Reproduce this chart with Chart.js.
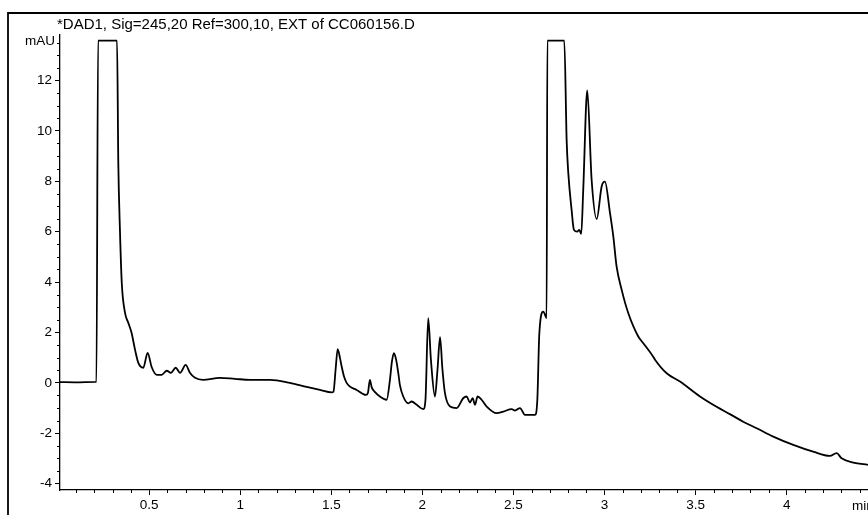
<!DOCTYPE html>
<html>
<head>
<meta charset="utf-8">
<script src="https://cdn.jsdelivr.net/npm/chart.js@4.4.1/dist/chart.umd.min.js"></script>
<style>
  html, body { margin: 0; padding: 0; background: #fff; }
  canvas { display: block; }
</style>
</head>
<body>
<canvas id="c" width="868" height="515"></canvas>
<script>
// ---- data ----
const title = "*DAD1, Sig=245,20 Ref=300,10, EXT of CC060156.D";
const yUnit = "mAU";
const xUnit = "min";
const xTickValues = [0.5, 1, 1.5, 2, 2.5, 3, 3.5, 4];
const yTickValues = [-4, -2, 0, 2, 4, 6, 8, 10, 12];

const timeMin = [
  0.010, 0.093, 0.209, 0.211, 0.220, 0.324, 0.331, 0.340, 0.350, 0.368,
  0.386, 0.404, 0.423, 0.441, 0.468, 0.492, 0.514, 0.542, 0.569, 0.597,
  0.620, 0.646, 0.670, 0.701, 0.724, 0.752, 0.796, 0.889, 0.971, 1.054,
  1.164, 1.273, 1.365, 1.438, 1.502, 1.512, 1.524, 1.535, 1.548, 1.557,
  1.570, 1.585, 1.603, 1.639,
  1.690, 1.701, 1.712, 1.722, 1.739, 1.767, 1.804, 1.822, 1.833, 1.844,
  1.855, 1.868, 1.877, 1.895,
  1.923, 1.941, 1.969, 2.005, 2.017, 2.032, 2.047, 2.069, 2.083, 2.097,
  2.110, 2.124, 2.152, 2.188, 2.224, 2.243, 2.261, 2.276, 2.289, 2.303,
  2.325, 2.353, 2.408, 2.444, 2.490, 2.508, 2.536, 2.563, 2.618, 2.631,
  2.642, 2.664, 2.682, 2.686, 2.779, 2.792, 2.801, 2.819, 2.832, 2.850,
  2.861, 2.872, 2.883, 2.905, 2.929, 2.957, 2.984, 3.002, 3.030, 3.048,
  3.066, 3.094, 3.130, 3.185, 3.212, 3.267, 3.277, 3.341, 3.414, 3.524,
  3.615, 3.688, 3.761, 3.835, 3.926, 4.036, 4.145, 4.237, 4.274, 4.301,
  4.365, 4.446
];
const signalMAU = [
  0.03, 0.02, 0.04, 0.04, 13.58, 13.58, 8.73, 6.07, 3.97, 2.78,
  2.38, 1.98, 1.31, 0.79, 0.60, 1.19, 0.63, 0.32, 0.32, 0.48,
  0.40, 0.60, 0.40, 0.71, 0.40, 0.20, 0.12, 0.20, 0.16, 0.12,
  0.12, 0.00, -0.16, -0.28, -0.38, -0.35, 0.55, 1.34, 0.98, 0.65,
  0.25, -0.01, -0.15, -0.28,
  -0.48, -0.40, 0.12, -0.18, -0.36, -0.54, -0.67, 0.12, 0.85, 1.18,
  0.95, 0.38, -0.10, -0.54,
  -0.81, -0.74, -0.87, -1.04, -0.67, 2.57, 0.91, -0.54, 0.52, 1.81,
  0.55, -0.41, -0.94, -1.00, -0.61, -0.54, -0.78, -0.61, -0.87, -0.54,
  -0.67, -0.94, -1.20, -1.14, -1.04, -1.10, -1.00, -1.27, -1.27, -0.67,
  1.97, 2.83, 2.57, 13.58, 13.58, 9.60, 8.32, 6.87, 6.07, 6.00,
  6.07, 5.91, 7.66, 11.60, 8.06, 6.50, 7.79, 7.98, 6.73, 5.81,
  4.62, 3.69, 2.77, 1.84, 1.58, 1.04, 0.92, 0.38, 0.05, -0.54,
  -0.95, -1.24, -1.54, -1.80, -2.13, -2.46, -2.73, -2.90, -2.79, -2.99,
  -3.16, -3.25
];

const X_MIN = 0.011, X_MAX = 4.446;
const Y_MIN = -4.25, Y_MAX = 13.8;

const FONT = "Arial, 'Liberation Sans', Helvetica, sans-serif";
Chart.defaults.font.family = FONT;
Chart.defaults.font.size = 13.5;
Chart.defaults.color = '#000';

const decor = {
  id: 'decor',
  afterDraw(chart) {
    const ctx = chart.ctx;
    const xs = chart.scales.x, ys = chart.scales.y;
    const area = chart.chartArea;
    ctx.save();
    // outer frame (left and top)
    ctx.strokeStyle = '#000';
    ctx.lineWidth = 1.8;
    ctx.beginPath();
    ctx.moveTo(8, 515);
    ctx.lineTo(8, 13);
    ctx.lineTo(868, 13);
    ctx.stroke();
    // minor ticks
    ctx.lineWidth = 1;
    ctx.beginPath();
    for (let i = 1; i <= 44; i++) {
      if (i % 5 === 0) continue;
      const px = Math.round(xs.getPixelForValue(i / 10)) + 0.5;
      ctx.moveTo(px, area.bottom);
      ctx.lineTo(px, area.bottom + 3);
    }
    for (let i = -8; i <= 27; i++) {
      if (i % 4 === 0) continue;
      const py = Math.round(ys.getPixelForValue(i / 2)) + 0.5;
      ctx.moveTo(area.left - 3, py);
      ctx.lineTo(area.left, py);
    }
    ctx.stroke();
    // texts
    ctx.fillStyle = '#000';
    ctx.textBaseline = 'alphabetic';
    ctx.textAlign = 'left';
    ctx.font = "15px " + FONT;
    ctx.fillText(title, 57, 29);
    ctx.textAlign = 'right';
    ctx.font = "13.5px " + FONT;
    ctx.fillText(yUnit, area.left - 5, ys.getPixelForValue(13.6) + 5);
    ctx.textAlign = 'left';
    ctx.fillText(xUnit, 852, 510);
    ctx.restore();
  }
};

new Chart(document.getElementById('c'), {
  type: 'line',
  data: {
    datasets: [{
      data: timeMin.map((t, i) => ({ x: t, y: signalMAU[i] })),
      borderColor: '#000',
      borderWidth: 1.8,
      pointRadius: 0,
      cubicInterpolationMode: 'monotone',
      fill: false
    }]
  },
  options: {
    responsive: false,
    animation: false,
    layout: { padding: { top: 35, right: 0, bottom: 0, left: 0 } },
    plugins: { legend: { display: false }, tooltip: { enabled: false }, title: { display: false } },
    scales: {
      x: {
        type: 'linear',
        min: X_MIN, max: X_MAX,
        afterBuildTicks: s => { s.ticks = xTickValues.map(v => ({ value: v })); },
        afterFit: s => { s.height = 25; },
        ticks: { callback: v => String(v), padding: 2, maxRotation: 0, autoSkip: false },
        grid: { drawOnChartArea: false, drawTicks: true, tickLength: 5, color: '#000', lineWidth: 1 },
        border: { display: true, color: '#000', width: 1.3 }
      },
      y: {
        type: 'linear',
        min: Y_MIN, max: Y_MAX,
        afterBuildTicks: s => { s.ticks = yTickValues.map(v => ({ value: v })); },
        afterFit: s => { s.width = 60; },
        ticks: { callback: v => String(v), padding: 3, autoSkip: false },
        grid: { drawOnChartArea: false, drawTicks: true, tickLength: 5, color: '#000', lineWidth: 1 },
        border: { display: true, color: '#000', width: 1.3 }
      }
    }
  },
  plugins: [decor]
});
</script>
</body>
</html>
